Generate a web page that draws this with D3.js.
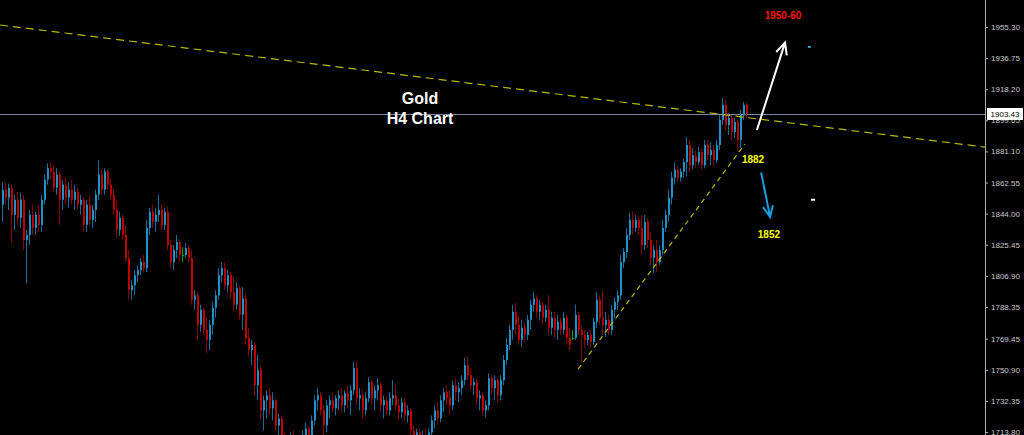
<!DOCTYPE html>
<html><head><meta charset="utf-8">
<script src="https://cdn.jsdelivr.net/npm/d3@7"></script>
<style>html,body{margin:0;padding:0;background:#000;overflow:hidden}</style>
</head><body><svg id="c" width="1024" height="435"></svg>
<script>
// ---- DATA (H4 XAUUSD candles) ----
const opens=[
1849.3,1858.3,1853.5,1859.5,1843.3,1852.3,1841.5,1852.3,1828.3,1831.3,
1843.3,1835.5,1843.3,1837.3,1852.3,1864.3,1871.1,1869.1,1859.5,1867.3,
1852.3,1861.3,1853.5,1858.3,1852.3,1857.1,1849.3,1852.3,1837.3,1849.3,
1840.3,1846.3,1855.3,1867.3,1858.3,1869.1,1861.3,1855.3,1846.3,1834.3,
1841.5,1831.3,1817.5,1798.3,1801.3,1807.3,1810.3,1815.1,1811.5,1835.5,
1845.1,1839.1,1843.3,1846.3,1837.3,1845.1,1825.3,1815.1,1822.3,1827.1,
1819.3,1819.3,1823.5,1817.5,1792.7,1795.3,1777.7,1786.7,1774.7,1768.7,
1777.7,1787.9,1795.3,1807.3,1811.5,1801.3,1807.3,1797.1,1789.7,1799.5,
1783.7,1793.5,1769.9,1762.7,1765.7,1741.7,1750.7,1726.7,1732.7,1735.7,
1727.9,1732.7,1717.7,1721.9,1708.7,1705.7,1702.7,1708.7,1703.9,1699.7,
1705.7,1711.7,1715.9,1711.7,1720.7,1732.7,1735.7,1726.7,1717.7,1729.7,
1732.7,1727.9,1733.9,1735.7,1729.7,1736.9,1732.7,1738.7,1751.9,1733.9,
1735.7,1726.7,1733.9,1743.5,1733.9,1738.7,1741.7,1729.7,1732.7,1726.7,
1733.9,1735.7,1729.7,1725.5,1731.5,1723.7,1726.7,1714.7,1709.9,1713.5,
1707.5,1711.7,1708.7,1713.5,1720.7,1726.7,1721.9,1732.7,1737.5,1733.9,
1729.7,1741.7,1737.5,1739.9,1744.7,1753.7,1747.7,1741.7,1743.5,1733.9,
1735.7,1726.7,1729.7,1745.9,1739.9,1744.7,1735.7,1744.7,1756.7,1765.7,
1774.7,1785.5,1777.7,1768.7,1775.9,1771.7,1780.7,1789.7,1793.5,1785.5,
1789.7,1781.9,1786.7,1775.9,1781.9,1774.7,1779.5,1774.7,1781.9,1769.9,
1769.9,1769.9,1783.7,1774.7,1771.7,1768.7,1771.7,1767.5,1779.5,1792.7,
1781.9,1777.7,1780.7,1774.7,1786.7,1791.5,1795.3,1815.1,1821.1,1831.3,
1840.3,1835.5,1840.3,1835.5,1825.3,1839.1,1828.3,1817.5,1822.3,1815.1,
1822.3,1835.5,1843.3,1853.5,1865.5,1870.3,1865.5,1869.1,1874.7,1884.9,
1872.9,1878.9,1874.7,1880.7,1872.9,1884.9,1878.9,1881.9,1875.9,1884.9,
1899.9,1908.9,1896.9,1901.1,1892.7,1898.7,1887.9,1902.9,1908.9];
const highs=[
1863.1,1862.5,1861.9,1861.3,1855.3,1857.1,1856.5,1855.3,1834.3,1846.3,
1849.3,1845.1,1849.3,1855.3,1867.3,1874.1,1874.7,1872.9,1871.1,1869.1,
1864.3,1865.5,1863.1,1864.3,1861.3,1859.5,1855.3,1854.1,1852.3,1855.3,
1849.3,1858.3,1875.9,1870.3,1871.1,1870.3,1865.5,1858.3,1852.3,1845.1,
1843.3,1837.3,1822.3,1804.3,1810.3,1813.3,1817.5,1819.3,1840.3,1847.5,
1849.3,1847.5,1855.3,1849.3,1847.5,1848.1,1828.3,1825.3,1831.3,1828.3,
1824.1,1826.5,1825.3,1822.3,1798.3,1797.1,1789.7,1787.9,1781.9,1780.7,
1791.5,1798.3,1811.5,1815.1,1815.1,1810.3,1809.1,1805.5,1803.1,1801.3,
1800.1,1796.5,1775.9,1768.7,1767.5,1759.7,1753.7,1735.7,1738.7,1739.9,
1737.5,1733.9,1724.9,1723.7,1713.5,1709.9,1713.5,1714.7,1709.9,1708.7,
1714.7,1719.5,1717.7,1723.7,1735.7,1739.9,1737.5,1729.7,1732.7,1735.7,
1737.5,1735.7,1738.7,1739.9,1738.7,1741.7,1741.7,1755.5,1755.5,1739.9,
1738.7,1737.5,1746.5,1744.7,1741.7,1745.9,1743.5,1735.7,1735.1,1737.5,
1744.7,1741.7,1733.9,1734.5,1733.9,1729.7,1727.9,1717.7,1715.9,1715.9,
1714.7,1715.9,1715.9,1723.7,1729.7,1731.5,1735.7,1739.9,1741.7,1738.7,
1744.7,1745.9,1743.5,1747.7,1757.9,1758.5,1751.9,1745.9,1745.9,1738.7,
1737.5,1732.7,1748.9,1747.7,1747.7,1745.9,1747.7,1759.7,1769.9,1777.7,
1789.7,1790.9,1783.7,1780.7,1779.5,1783.7,1792.7,1797.1,1795.3,1792.7,
1791.5,1789.7,1795.3,1785.5,1785.5,1783.7,1781.9,1785.5,1783.7,1775.9,
1774.7,1789.7,1785.5,1777.7,1774.7,1773.5,1774.7,1781.9,1797.1,1795.3,
1798.3,1785.5,1783.7,1789.7,1794.1,1798.3,1819.3,1823.5,1835.5,1844.5,
1845.1,1843.3,1842.7,1843.3,1843.3,1841.5,1833.1,1825.3,1828.3,1825.3,
1840.3,1846.3,1858.3,1869.1,1874.7,1872.9,1871.1,1877.1,1889.7,1887.9,
1883.1,1881.9,1883.7,1883.1,1887.9,1887.9,1886.7,1884.9,1887.9,1902.9,
1913.1,1911.9,1904.1,1902.9,1901.1,1899.9,1905.9,1910.7,1910.1];
const lows=[
1839.1,1849.3,1846.3,1827.1,1834.3,1837.3,1835.5,1822.3,1802.5,1825.3,
1831.3,1831.3,1833.1,1833.1,1849.3,1861.3,1864.3,1857.1,1855.3,1837.3,
1846.3,1849.3,1847.5,1849.3,1846.3,1846.3,1843.3,1833.1,1833.1,1837.3,
1835.5,1839.1,1852.3,1855.3,1855.3,1858.3,1852.3,1843.3,1829.5,1830.7,
1828.3,1815.1,1792.7,1792.7,1795.3,1803.1,1807.3,1809.1,1809.1,1831.3,
1835.5,1833.1,1839.1,1834.3,1834.3,1822.3,1811.5,1810.3,1817.5,1815.1,
1815.1,1817.5,1815.1,1789.7,1786.7,1768.7,1773.5,1771.7,1760.9,1762.7,
1771.7,1781.9,1792.7,1803.1,1798.3,1797.1,1793.5,1785.5,1786.7,1780.7,
1774.7,1765.7,1758.5,1753.7,1735.7,1732.7,1720.7,1714.7,1721.9,1723.7,
1720.7,1714.7,1708.7,1702.7,1696.7,1695.5,1697.9,1699.7,1693.7,1695.5,
1701.5,1705.7,1708.7,1707.5,1717.7,1726.7,1723.7,1711.7,1713.5,1721.9,
1725.5,1723.7,1726.7,1725.5,1725.5,1727.9,1723.7,1735.7,1729.7,1726.7,
1721.9,1723.7,1731.5,1729.7,1726.7,1732.7,1725.5,1721.9,1723.7,1723.7,
1729.7,1726.7,1720.7,1721.9,1720.7,1719.5,1711.7,1705.7,1703.9,1702.7,
1703.9,1705.7,1707.5,1709.9,1715.9,1717.7,1719.5,1725.5,1729.7,1723.7,
1726.7,1732.7,1731.5,1735.7,1741.7,1744.7,1738.7,1735.7,1729.7,1726.7,
1723.7,1722.5,1726.7,1735.7,1732.7,1731.5,1732.7,1741.7,1753.7,1762.7,
1768.7,1771.7,1765.7,1764.5,1767.5,1768.7,1774.7,1785.5,1781.9,1780.7,
1777.7,1779.5,1771.7,1771.7,1769.9,1768.7,1771.7,1771.7,1765.7,1762.7,
1768.7,1768.7,1771.7,1755.5,1763.9,1765.7,1763.9,1765.7,1775.9,1777.7,
1771.7,1770.5,1771.7,1771.7,1781.9,1786.7,1792.7,1811.5,1817.5,1828.3,
1831.3,1833.1,1831.3,1819.3,1822.3,1823.5,1813.3,1808.5,1809.1,1813.3,
1819.3,1833.1,1839.1,1849.3,1861.3,1863.1,1863.1,1865.5,1866.1,1869.1,
1870.3,1871.1,1872.9,1870.3,1871.1,1875.9,1872.9,1871.7,1874.1,1881.9,
1896.9,1893.9,1890.9,1887.9,1889.1,1881.9,1883.1,1899.9,1901.1];
const closes=[
1858.3,1853.5,1859.5,1843.3,1852.3,1841.5,1852.3,1828.3,1831.3,1843.3,
1835.5,1843.3,1837.3,1852.3,1864.3,1871.1,1869.1,1859.5,1867.3,1852.3,
1861.3,1853.5,1858.3,1852.3,1857.1,1849.3,1852.3,1837.3,1849.3,1840.3,
1846.3,1855.3,1867.3,1858.3,1869.1,1861.3,1855.3,1846.3,1834.3,1841.5,
1831.3,1817.5,1798.3,1801.3,1807.3,1810.3,1815.1,1811.5,1835.5,1845.1,
1839.1,1843.3,1846.3,1837.3,1845.1,1825.3,1815.1,1822.3,1827.1,1819.3,
1819.3,1823.5,1817.5,1792.7,1795.3,1777.7,1786.7,1774.7,1768.7,1777.7,
1787.9,1795.3,1807.3,1811.5,1801.3,1807.3,1797.1,1789.7,1799.5,1783.7,
1793.5,1769.9,1762.7,1765.7,1741.7,1750.7,1726.7,1732.7,1735.7,1727.9,
1732.7,1717.7,1721.9,1708.7,1705.7,1702.7,1708.7,1703.9,1699.7,1705.7,
1711.7,1715.9,1711.7,1720.7,1732.7,1735.7,1726.7,1717.7,1729.7,1732.7,
1727.9,1733.9,1735.7,1729.7,1736.9,1732.7,1738.7,1751.9,1733.9,1735.7,
1726.7,1733.9,1743.5,1733.9,1738.7,1741.7,1729.7,1732.7,1726.7,1733.9,
1735.7,1729.7,1725.5,1731.5,1723.7,1726.7,1714.7,1709.9,1713.5,1707.5,
1711.7,1708.7,1713.5,1720.7,1726.7,1721.9,1732.7,1737.5,1733.9,1729.7,
1741.7,1737.5,1739.9,1744.7,1753.7,1747.7,1741.7,1743.5,1733.9,1735.7,
1726.7,1729.7,1745.9,1739.9,1744.7,1735.7,1744.7,1756.7,1765.7,1774.7,
1785.5,1777.7,1768.7,1775.9,1771.7,1780.7,1789.7,1793.5,1785.5,1789.7,
1781.9,1786.7,1775.9,1781.9,1774.7,1779.5,1774.7,1781.9,1769.9,1765.7,
1769.9,1783.7,1774.7,1771.7,1768.7,1771.7,1767.5,1779.5,1792.7,1781.9,
1777.7,1780.7,1774.7,1786.7,1791.5,1795.3,1815.1,1821.1,1831.3,1840.3,
1835.5,1840.3,1835.5,1825.3,1839.1,1828.3,1817.5,1822.3,1815.1,1822.3,
1835.5,1843.3,1853.5,1865.5,1870.3,1865.5,1869.1,1874.7,1884.9,1872.9,
1878.9,1874.7,1880.7,1872.9,1884.9,1878.9,1881.9,1875.9,1884.9,1899.9,
1908.9,1896.9,1901.1,1892.7,1898.7,1887.9,1902.9,1908.9,1903.43];

const tickLabels=["1955.30","1936.75","1918.20","1899.65","1881.10","1862.55","1844.00",
  "1825.45","1806.90","1788.35","1769.45","1750.90","1732.35","1713.80"];
const bidPrice=1903.43;
const titleLines=["Gold","H4 Chart"];
const titleX=[139.5,139.5], titleP=[1909.5,1897.5];
// trend lines (bar index, price)
const resistX=[-0.5,327.8], resistP=[1956.5,1883.7];
const supportX=[192.2,247.8], supportP=[1751.3,1885.5];
// arrows (bar index, price) from tail to head
const upArrowX=[251.8,261.2], upArrowP=[1893.9,1946.1];
const downArrowX=[253.2,256.2], downArrowP=[1868.5,1842.1];
// annotation texts
const noteText=["1950-60","1882","1852"];
const noteX=[260.5,250.5,255.8];
const noteP=[1959.9,1874.1,1829.5];
const noteColor=["#ff1010","#ffff00","#ffff00"];
// small marker dashes
const markX=[269.3,270.5], markP=[1943.4,1852.3];

// ---- DRAWING ----
const W=1024,H=435,axisX=985;
const svg=d3.select("#c");
svg.append("rect").attr("width",W).attr("height",H).attr("fill","#000");
const x=d3.scaleLinear().domain([-0.5,327.83]).range([0,axisX]);
const y=d3.scaleLinear().domain([1713.80,1955.30]).range([432,27]);

svg.append("defs").append("clipPath").attr("id","plot")
  .append("rect").attr("x",0).attr("y",0).attr("width",axisX).attr("height",H);
const plot=svg.append("g").attr("clip-path","url(#plot)");

// bid line
plot.append("line").attr("x1",0).attr("x2",axisX)
  .attr("y1",Math.round(y(bidPrice))+0.5).attr("y2",Math.round(y(bidPrice))+0.5)
  .attr("stroke","#7888a0").attr("stroke-width",1);

// candles
const candles=d3.range(opens.length).map(i=>({i,o:opens[i],h:highs[i],l:lows[i],c:closes[i]}));
const colWick=d=>d.c>d.o?"#14709a":(d.c<d.o?"#8c0000":"#00a000");
const colBody=d=>d.c>d.o?"#1f92c8":(d.c<d.o?"#c00000":"#00c000");
const g=plot.append("g");
g.selectAll("line.w").data(candles).join("line").attr("class","w")
  .attr("x1",d=>Math.round(x(d.i))+0.5).attr("x2",d=>Math.round(x(d.i))+0.5)
  .attr("y1",d=>y(d.h)).attr("y2",d=>y(d.l))
  .attr("stroke",colWick).attr("stroke-width",1);
g.selectAll("rect.b").data(candles).join("rect").attr("class","b")
  .attr("x",d=>Math.round(x(d.i))).attr("width",2)
  .attr("y",d=>Math.min(y(d.o),y(d.c)))
  .attr("height",d=>Math.max(1,Math.abs(y(d.o)-y(d.c))))
  .attr("fill",colBody);

// trend lines
function extLine(xs,ps){
  const k=(ps[1]-ps[0])/(xs[1]-xs[0]);
  return [xs,ps,k];
}
plot.append("line")
  .attr("x1",x(resistX[0])).attr("y1",y(resistP[0]))
  .attr("x2",x(resistX[1])).attr("y2",y(resistP[1]))
  .attr("stroke","#b8b800").attr("stroke-width",1.2).attr("stroke-dasharray","8,5");
plot.append("line")
  .attr("x1",x(supportX[0])).attr("y1",y(supportP[0]))
  .attr("x2",x(supportX[1])).attr("y2",y(supportP[1]))
  .attr("stroke","#b8b800").attr("stroke-width",1.2).attr("stroke-dasharray","5,4");

// arrows
function arrow(xs,ps,color,headLen){
  const x0=x(xs[0]),y0=y(ps[0]),x1=x(xs[1]),y1=y(ps[1]);
  const a=Math.atan2(y0-y1,x0-x1), s=25*Math.PI/180;
  const p=d3.path();
  p.moveTo(x0,y0);p.lineTo(x1,y1);
  p.moveTo(x1+headLen*Math.cos(a-s),y1+headLen*Math.sin(a-s));
  p.lineTo(x1,y1);
  p.lineTo(x1+headLen*Math.cos(a+s),y1+headLen*Math.sin(a+s));
  plot.append("path").attr("d",p.toString()).attr("fill","none")
    .attr("stroke",color).attr("stroke-width",2).attr("stroke-linejoin","miter");
}
arrow(upArrowX,upArrowP,"#ffffff",13);
arrow(downArrowX,downArrowP,"#1a9ee0",12);

// markers
plot.append("rect").attr("x",x(markX[0])-1.5).attr("y",y(markP[0])-1).attr("width",3).attr("height",2).attr("fill","#1a9ee0");
plot.append("rect").attr("x",x(markX[1])-2).attr("y",y(markP[1])-1).attr("width",4).attr("height",2).attr("fill","#ffffff");

// notes
noteText.forEach((t,k)=>{
  plot.append("text").attr("x",x(noteX[k])).attr("y",y(noteP[k]))
    .attr("text-anchor","middle").attr("fill",noteColor[k])
    .style("font","bold 10px 'Liberation Sans', Arial, sans-serif").text(t);
});
// title
titleLines.forEach((t,k)=>{
  plot.append("text").attr("x",x(titleX[k])).attr("y",y(titleP[k]))
    .attr("text-anchor","middle").attr("fill","#ffffff")
    .style("font","bold 16px 'Liberation Sans', Arial, sans-serif").text(t);
});

// price axis
svg.append("line").attr("x1",axisX+0.5).attr("x2",axisX+0.5).attr("y1",0).attr("y2",H)
  .attr("stroke","#b0b0b0").attr("stroke-width",1);
const axis=d3.axisRight(y).tickValues(tickLabels.map(Number))
  .tickFormat((d,i)=>tickLabels[i]).tickSize(3).tickPadding(3);
const ag=svg.append("g").attr("transform",`translate(${axisX},0)`).call(axis);
ag.select(".domain").remove();
ag.selectAll(".tick line").attr("stroke","#b0b0b0");
ag.selectAll(".tick text").attr("fill","#c8c8c8")
  .style("font","8px 'Liberation Sans', Arial, sans-serif");

// bid label
const by=y(bidPrice);
svg.append("rect").attr("x",axisX+2).attr("y",by-6).attr("width",36).attr("height",12).attr("fill","#ffffff");
svg.append("text").attr("x",axisX+20).attr("y",by).attr("dy","0.33em").attr("text-anchor","middle")
  .attr("fill","#000").style("font","8px 'Liberation Sans', Arial, sans-serif").text(bidPrice.toFixed(2));
</script></body></html>
